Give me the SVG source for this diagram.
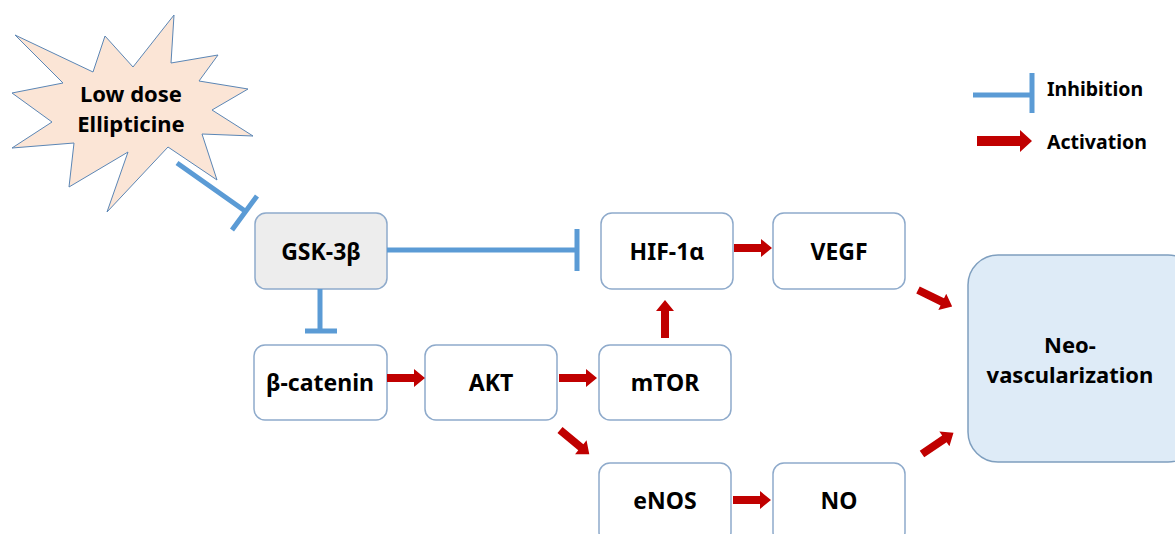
<svg xmlns="http://www.w3.org/2000/svg" width="1175" height="534" viewBox="0 0 1175 534">
<style>
.box{fill:#FFFFFF;stroke:#8EAACB;stroke-width:1.5}
.lbl{font-family:"Noto Sans","Open Sans","Liberation Sans",sans-serif;font-weight:700;font-size:23px;fill:#000;text-anchor:middle;dominant-baseline:central}
.two{font-size:22px}
.leg{font-family:"Noto Sans","Open Sans","Liberation Sans",sans-serif;font-weight:700;font-size:19.5px;fill:#000;dominant-baseline:central}
.inh{stroke:#5B9BD5;stroke-width:5;fill:none}
.act{fill:#C00000}
</style>
<defs>
<path id="arr" d="M0,-4 H27 V-9 L38,0 L27,9 V4 H0 Z"/>
<path id="arrL" d="M0,-5 H43 V-11 L55,0 L43,11 V5 H0 Z"/>
</defs>
<g id="drug">
<polygon points="15,35 93,72 105,36 133,67 174,15 171,63 218,55 199,81 248,89 212,110 253,136 202,134 217,180 168,147 107,212 128,152 69,187 74,143 12,148 52,122 12,93 63,83" fill="#FBE5D6" stroke="#5B86B5" stroke-width="1"/>
<text class="lbl two" x="131" y="93">Low dose</text>
<text class="lbl two" x="131" y="123">Ellipticine</text>
</g>
<g id="gsk3b"><rect x="255" y="213" width="132" height="76" rx="11" fill="#EDEDED" stroke="#8EAACB" stroke-width="1.5"/><text class="lbl" x="321" y="251">GSK-3β</text></g>
<g id="hif1a"><rect class="box" x="601" y="213" width="132" height="76" rx="11"/><text class="lbl" x="667" y="251">HIF-1α</text></g>
<g id="vegf"><rect class="box" x="773" y="213" width="132" height="76" rx="11"/><text class="lbl" x="839" y="251">VEGF</text></g>
<g id="bcatenin"><rect class="box" x="254" y="345" width="133" height="75" rx="11"/><text class="lbl" x="320" y="382">β-catenin</text></g>
<g id="akt"><rect class="box" x="425" y="345" width="132" height="75" rx="11"/><text class="lbl" x="491" y="382">AKT</text></g>
<g id="mtor"><rect class="box" x="599" y="345" width="132" height="75" rx="11"/><text class="lbl" x="665" y="382">mTOR</text></g>
<g id="enos"><rect class="box" x="599" y="463" width="132" height="80" rx="11"/><text class="lbl" x="665" y="500">eNOS</text></g>
<g id="no"><rect class="box" x="773" y="463" width="132" height="80" rx="11"/><text class="lbl" x="839" y="500">NO</text></g>
<g id="neovasc"><rect x="968" y="255" width="230" height="207" rx="30" fill="#DEEBF7" stroke="#7F9FBF" stroke-width="1.5"/><text class="lbl two" x="1070" y="344">Neo-</text><text class="lbl two" x="1070" y="374">vascularization</text></g>
<g id="connectors">
<path class="inh" d="M177,163 L245,211 M232,230 L257,196"/>
<path class="inh" d="M387,250 H577 M577,229 V271"/>
<path class="inh" d="M320,289 V330 M305,331 H337"/>
<use href="#arr" class="act" transform="translate(387,378)"/>
<use href="#arr" class="act" transform="translate(559,378)"/>
<use href="#arr" class="act" transform="translate(734,248)"/>
<use href="#arr" class="act" transform="translate(733,500)"/>
<use href="#arr" class="act" transform="translate(665,338) rotate(-90)"/>
<use href="#arr" class="act" transform="translate(560,430) rotate(39.6)"/>
<use href="#arr" class="act" transform="translate(918,290) rotate(25.9)"/>
<use href="#arr" class="act" transform="translate(922,454) rotate(-34)"/>
</g>
<g id="legend">
<path class="inh" d="M973,95 H1032 M1032,73 V113"/>
<text class="leg" x="1047" y="88">Inhibition</text>
<use href="#arrL" class="act" transform="translate(977,141)"/>
<text class="leg" x="1047" y="141">Activation</text>
</g>
</svg>
